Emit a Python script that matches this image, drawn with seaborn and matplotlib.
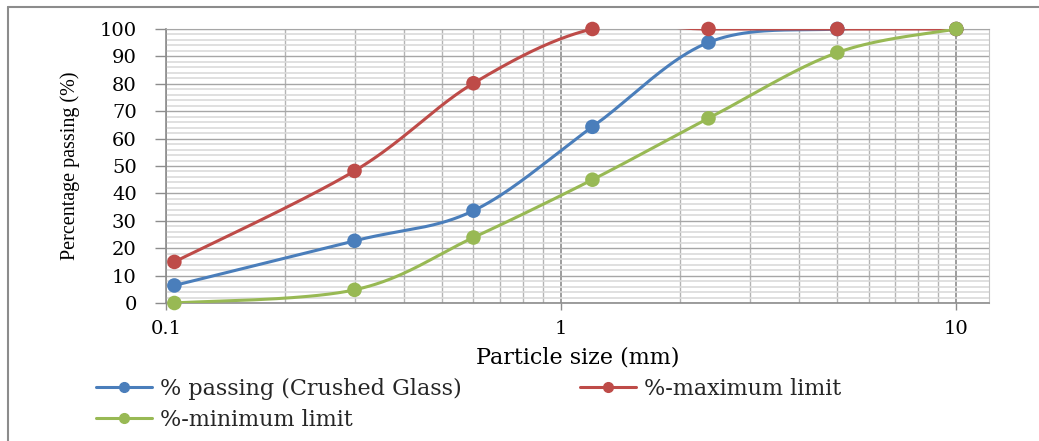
import numpy as np
import pandas as pd
import matplotlib.pyplot as plt
import seaborn as sns
from matplotlib.lines import Line2D
from matplotlib.ticker import FixedLocator, FixedFormatter, NullFormatter, MultipleLocator

# sieve sizes (mm) and percent passing
sizes = [0.105, 0.3, 0.6, 1.2, 2.36, 5, 10]
passing = [6.4, 22.7, 33.7, 64.3, 95.1, 100, 100]
max_limit = [15, 48.2, 80.2, 100, 100, 100, 100]
min_limit = [0, 4.8, 23.9, 45, 67.4, 91.4, 100]

series_names = ['% passing (Crushed Glass)', '%-maximum limit', '%-minimum limit']
series_colors = ['#4a7ebb', '#be4b48', '#98b954']

x_ticks = [0.1, 1, 10]
x_tick_labels = ['0.1', '1', '10']
y_ticks = list(range(0, 101, 10))

sns.set_style('white')
plt.rcParams['font.family'] = ['DejaVu Serif']


def smooth(x, y, n=40):
    # excel-like smoothed line (catmull-rom in log-x space)
    lx = np.log10(np.asarray(x, float))
    yy = np.asarray(y, float)
    px = np.concatenate([[lx[0]], lx, [lx[-1]]])
    py = np.concatenate([[yy[0]], yy, [yy[-1]]])
    t = np.linspace(0, 1, n)
    h00 = 2 * t**3 - 3 * t**2 + 1
    h10 = t**3 - 2 * t**2 + t
    h01 = -2 * t**3 + 3 * t**2
    h11 = t**3 - t**2
    xs, ys = [], []
    for i in range(1, len(px) - 2):
        mx0 = (px[i + 1] - px[i - 1]) / 2
        my0 = (py[i + 1] - py[i - 1]) / 2
        mx1 = (px[i + 2] - px[i]) / 2
        my1 = (py[i + 2] - py[i]) / 2
        xs.append(h00 * px[i] + h10 * mx0 + h01 * px[i + 1] + h11 * mx1)
        ys.append(h00 * py[i] + h10 * my0 + h01 * py[i + 1] + h11 * my1)
    return 10 ** np.concatenate(xs), np.concatenate(ys)


fig = plt.figure(figsize=(10.39, 4.41), dpi=100)
ax = fig.add_axes([166 / 1039, 1 - 303 / 441, (989 - 166) / 1039, (303 - 29) / 441])

for vals, name, c in zip([passing, max_limit, min_limit], series_names, series_colors):
    sx, sy = smooth(sizes, vals)
    curve = pd.DataFrame({'size': sx, 'pct': sy})
    sns.lineplot(data=curve, x='size', y='pct', color=c, lw=2.2, sort=False,
                 estimator=None, ax=ax, zorder=3)
    pts = pd.DataFrame({'size': sizes, 'pct': vals})
    sns.scatterplot(data=pts, x='size', y='pct', color=c, s=110, edgecolor='none',
                    ax=ax, zorder=4, clip_on=False)

ax.set_xscale('log')
ax.set_xlim(0.1, 12.1)
ax.set_ylim(0, 100)

ax.xaxis.set_major_locator(FixedLocator(x_ticks))
ax.xaxis.set_major_formatter(FixedFormatter(x_tick_labels))
ax.xaxis.set_minor_locator(FixedLocator([m * d for d in [0.1, 1, 10] for m in range(2, 10)]))
ax.xaxis.set_minor_formatter(NullFormatter())
ax.yaxis.set_major_locator(FixedLocator(y_ticks))
ax.yaxis.set_minor_locator(MultipleLocator(2))

ax.set_axisbelow(True)
ax.grid(axis='y', which='major', color='#a6a6a6', lw=1)
ax.grid(axis='y', which='minor', color='#dadada', lw=1.2)
ax.grid(axis='x', which='major', color='#8c8c8c', lw=1.2)
ax.grid(axis='x', which='minor', color='#b4b4b4', lw=1)

ax.tick_params(axis='y', which='major', left=True, length=8, width=1, color='#8c8c8c',
               pad=13, labelsize=14, labelcolor='black')
ax.tick_params(axis='x', which='major', bottom=True, length=5, width=1, color='#8c8c8c',
               pad=7, labelsize=14, labelcolor='black')
ax.tick_params(which='minor', length=0)

for side in ['left', 'bottom']:
    ax.spines[side].set_color('#8c8c8c')
    ax.spines[side].set_linewidth(1.2)
ax.spines['top'].set_color('#a6a6a6')
ax.spines['right'].set_color('#c4c4c4')

ax.set_xlabel('Particle size (mm)', fontsize=16, color='black')
ax.xaxis.set_label_coords(0.5, -0.158)
ax.set_ylabel('Percentage passing (%)', fontsize=14.5, color='black', family=['Liberation Serif'])
ax.yaxis.set_label_coords(-0.104, 0.5)

handles = [Line2D([], [], color=c, lw=2.2, marker='o', markersize=7) for c in series_colors]
order = [0, 2, 1]
fig.legend([handles[i] for i in order], [series_names[i] for i in order],
           loc='upper left', bbox_to_anchor=(96 / 1039, 1 - 378 / 441), ncol=2,
           frameon=False, fontsize=16, handlelength=2.5, handletextpad=0.36,
           columnspacing=5.35, labelspacing=0.41, borderpad=0, borderaxespad=0)

# chart area border (left and top)
fig.add_artist(Line2D([8 / 1039, 8 / 1039], [0, 1 - 7 / 441], transform=fig.transFigure,
                      color='#8c8c8c', lw=1.5))
fig.add_artist(Line2D([8 / 1039, 1], [1 - 7 / 441, 1 - 7 / 441], transform=fig.transFigure,
                      color='#8c8c8c', lw=1.5))

fig.savefig('out.png', dpi=100)
